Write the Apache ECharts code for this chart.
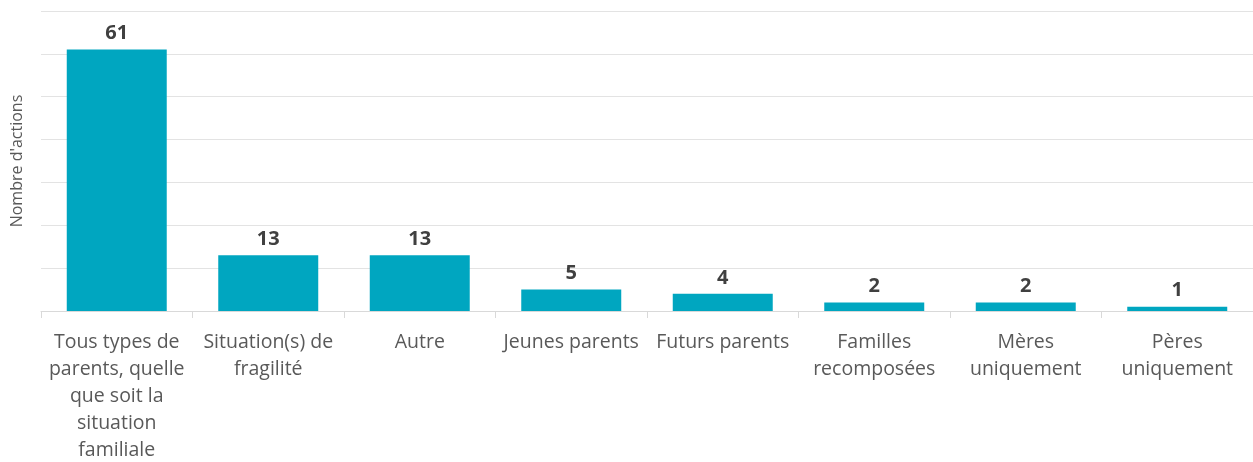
<!DOCTYPE html>
<html><head><meta charset="utf-8">
<script src="https://cdn.jsdelivr.net/npm/echarts@6/dist/echarts.min.js"></script>
<style>html,body{margin:0;padding:0;background:#fff}#c{width:1253px;height:462px}</style>
</head><body><div id="c"></div>
<script>
const categories = [
  "Tous types de\nparents, quelle\nque soit la\nsituation\nfamiliale",
  "Situation(s) de\nfragilité",
  "Autre",
  "Jeunes parents",
  "Futurs parents",
  "Familles\nrecomposées",
  "Mères\nuniquement",
  "Pères\nuniquement"
];
const values = [61, 13, 13, 5, 4, 2, 2, 1];
const axisName = "Nombre d'actions";

const chart = echarts.init(document.getElementById('c'), null, {renderer: 'canvas'});
chart.setOption({
  animation: false,
  grid: {left: 41, right: 0, top: 11, bottom: 151, containLabel: false, outerBoundsMode: 'none'},
  xAxis: {
    type: 'category',
    data: categories,
    axisLine: {lineStyle: {color: '#d9d9d9', width: 1}},
    axisTick: {show: true, length: 7, lineStyle: {color: '#d9d9d9'}},
    axisLabel: {color: '#595959', fontSize: 19.5, fontFamily: 'Open Sans', lineHeight: 27, margin: 18, interval: 0}
  },
  yAxis: {
    type: 'value',
    min: 0, max: 70, interval: 10,
    name: axisName,
    nameLocation: 'middle',
    nameGap: 16,
    nameRotate: 90,
    nameTextStyle: {color: '#595959', fontSize: 16, fontFamily: 'Open Sans'},
    axisLabel: {show: false},
    axisTick: {show: false},
    axisLine: {show: false},
    splitLine: {lineStyle: {color: '#e3e3e3', width: 1}}
  },
  series: [{
    type: 'bar',
    data: values,
    barWidth: '66%',
    itemStyle: {color: '#00a6c0'},
    label: {show: true, position: 'top', distance: 6, color: '#404040', fontSize: 20, fontWeight: 'bold', fontFamily: 'Open Sans'}
  }]
});
</script></body></html>
